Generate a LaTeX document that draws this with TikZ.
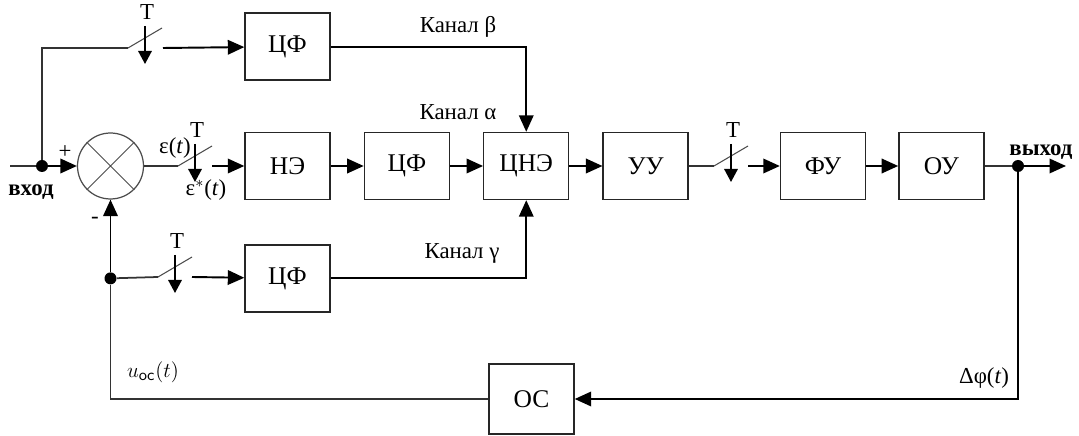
\documentclass[tikz,border=0pt]{standalone}
\usepackage{fontspec}
\setmainfont{Liberation Serif}
\usetikzlibrary{arrows.meta, positioning, calc}
\tikzset{
    box/.style={rectangle, draw=black!85, line width=0.8pt, fill=white, minimum width=1.7cm, minimum height=1.34cm, align=center, font=\fontsize{14.5}{16}\selectfont},
    sumnode/.style={circle, draw=black!70, line width=0.7pt, minimum size=1.32cm, inner sep=0pt},
    dot/.style={circle, fill=black, inner sep=0pt, minimum size=0.24cm},
    lbl/.style={font=\fontsize{13}{15}\selectfont, inner sep=1pt},
    boldlbl/.style={lbl, font=\fontsize{13}{15}\selectfont\bfseries},
    wire/.style={line width=1pt, draw=black!80},
    arrow/.style={-{Triangle[length=0.33cm, width=0.29cm]}, line width=1.1pt, draw=black},
    keyT/.pic={
        \draw[line width=0.6pt, black!70] (0,0) -- (34,20);
        \draw[line width=0.9pt, -{Triangle[length=0.26cm, width=0.27cm]}] (17,22) -- (17,-16);
        \node[lbl] at (19,36) {T};
    }
}
\begin{document}
\begin{tikzpicture}[x=0.02cm, y=0.02cm, node distance=0.66cm and 0.66cm]
    \useasboundingbox (0,0) rectangle (1079,436);
    % main row
    \node[sumnode] (sum) at (110.5,270) {};
    \draw[line width=0.5pt, black!70] (sum.north west) -- (sum.south east) (sum.north east) -- (sum.south west);
    \node[box] (ne) at (287.5,270) {НЭ};
    \node[box, right=of ne] (cf2) {ЦФ};
    \node[box, right=of cf2] (cne) {ЦНЭ};
    \node[box, right=of cne] (uu) {УУ};
    \node[box] (fu) at (823,270) {ФУ};
    \node[box, right=0.64cm of fu] (ou) {ОУ};
    % channels beta and gamma, feedback
    \node[box, above=1.02cm of ne] (cf1) {ЦФ};
    \node[box, below=0.88cm of ne] (cf3) {ЦФ};
    \node[box, minimum height=1.4cm] (oc) at (531.5,37) {ОС};

    \node[dot] (jin) at (42,270) {};
    \node[dot] (jout) at (1018,270) {};
    \node[dot] (jfb) at (sum.south |- cf3) {};
    \coordinate (in) at (10,270);
    \coordinate (out) at (1066,270);
    % keys T
    \coordinate (s1a) at (128,388); \coordinate (s1b) at (163,388);
    \coordinate (s2a) at (178,270); \coordinate (s2b) at (212,270);
    \coordinate (s3a) at (158,159); \coordinate (s3b) at (192,159);
    \coordinate (s4a) at (714,270); \coordinate (s4b) at (748,270);
    \pic at (s1a) {keyT};
    \pic at (s2a) {keyT};
    \pic at (s3a) {keyT};
    \pic at (s4a) {keyT};

    \draw[wire] (in) -- (jin);
    \draw[arrow] (jin) -- (sum.west);
    \draw[wire] (jin) |- (s1a);
    \draw[arrow] (s1b) -- (cf1);
    \draw[wire] (sum.east) -- (s2a);
    \draw[arrow] (s2b) -- (ne);
    \draw[arrow] (ne) -- (cf2);
    \draw[arrow] (cf2) -- (cne);
    \draw[arrow] (cne) -- (uu);
    \draw[wire] (uu) -- (s4a);
    \draw[arrow] (s4b) -- (fu);
    \draw[arrow] (fu) -- (ou);
    \draw[wire] (ou) -- (jout);
    \draw[arrow] (jout) -- (out);
    \draw[arrow] (cf1.east) -| (cne.north);
    \draw[arrow] (cf3.east) -| (cne.south);
    \draw[arrow] (jout) |- (oc.east);
    \draw[wire] (oc.west) -| (jfb);
    \draw[arrow] (jfb) -- (sum.south);
    \draw[wire] (jfb) -- (s3a);
    \draw[arrow] (s3b) -- (cf3);

    % labels
    \node[lbl] at (65,284) {+};
    \node[lbl] at (95,216) {-};
    \node[boldlbl] at (31,244) {вход};
    \node[boldlbl] at (1041,284) {выход};
    \node[lbl] at (175,288) {ε(\textit{t})};
    \node[lbl] at (206,246) {ε$^*$(\textit{t})};
    \node[lbl] at (458,409) {Канал β};
    \node[lbl] at (458,324) {Канал α};
    \node[lbl] at (462,183) {Канал γ};
    \node[lbl] at (153,64) {$u_{\mathsf{oc}}(t)$};
    \node[lbl] at (984,58) {Δφ(\textit{t})};
\end{tikzpicture}
\end{document}
